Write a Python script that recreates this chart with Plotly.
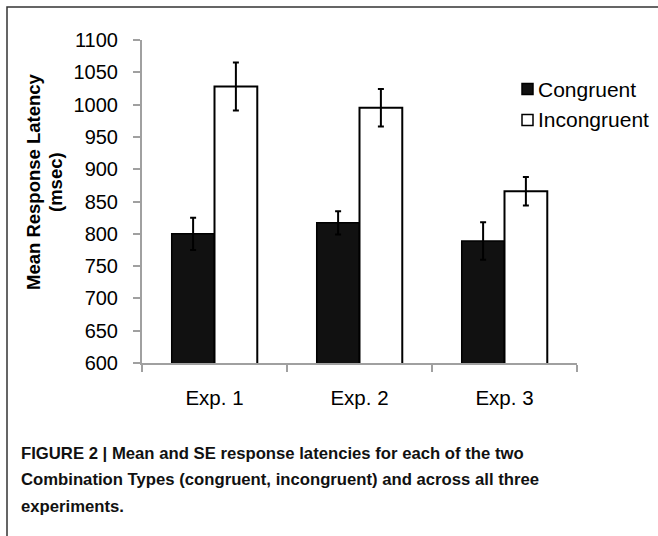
import plotly.graph_objects as go

categories = ["Exp. 1", "Exp. 2", "Exp. 3"]
congruent = [800, 817, 789]
congruent_se = [25, 18, 29]
incongruent = [1028, 995, 866]
incongruent_se = [37, 29, 22]
y_ticks = [600, 650, 700, 750, 800, 850, 900, 950, 1000, 1050, 1100]
series_names = ["Congruent", "Incongruent"]
caption_lines = [
    "FIGURE 2 | Mean and SE response latencies for each of the two",
    "Combination Types (congruent, incongruent) and across all three",
    "experiments.",
]

W, H = 658, 536
L, R, T, B = 142, 577, 40, 363

def px(x):
    return (x - L) / (R - L)

def py(y):
    return (B - y) / (B - T)

fig = go.Figure()
fig.add_trace(go.Bar(
    name=series_names[0], x=categories, y=congruent,
    marker=dict(color="#111111", line=dict(color="#000000", width=1.5)),
    error_y=dict(type="data", array=congruent_se, color="#000000", thickness=2, width=3),
))
fig.add_trace(go.Bar(
    name=series_names[1], x=categories, y=incongruent,
    marker=dict(color="#ffffff", line=dict(color="#000000", width=2)),
    error_y=dict(type="data", array=incongruent_se, color="#000000", thickness=2, width=3),
))

font_main = "Liberation Sans, Arial, sans-serif"

fig.update_layout(
    width=W, height=H,
    margin=dict(l=L, r=W - R, t=T, b=H - B),
    paper_bgcolor="white", plot_bgcolor="white",
    barmode="group", bargap=0.41, bargroupgap=0,
    font=dict(family=font_main, size=20, color="#000000"),
    showlegend=False,
)
fig.update_xaxes(
    showline=True, linecolor="#a0a0a0", linewidth=2,
    ticks="outside", tickson="boundaries", ticklen=7, tickcolor="#a0a0a0", tickwidth=2,
    showgrid=False, ticklabelstandoff=15,
    tickfont=dict(size=20.5),
)
fig.update_yaxes(
    range=[600, 1100], tickvals=y_ticks,
    showline=True, linecolor="#a0a0a0", linewidth=2,
    ticks="outside", ticklen=7, tickcolor="#a0a0a0", tickwidth=2,
    showgrid=False, zeroline=False, ticklabelstandoff=11,
    tickfont=dict(size=20),
)

# y-axis title (two lines)
fig.add_annotation(text="<b>Mean Response Latency</b>", xref="paper", yref="paper",
                   x=px(33), y=py(182), xanchor="center", yanchor="middle", textangle=-90,
                   showarrow=False, font=dict(size=18.5, family=font_main))
fig.add_annotation(text="<b>(msec)</b>", xref="paper", yref="paper",
                   x=px(55), y=py(182), xanchor="center", yanchor="middle", textangle=-90,
                   showarrow=False, font=dict(size=18.5, family=font_main))

# legend (custom)
legend_fills = ["#111111", "#ffffff"]
legend_y = [89, 120]
for name, fill, yc in zip(series_names, legend_fills, legend_y):
    fig.add_shape(type="rect", xref="paper", yref="paper",
                  x0=px(522), x1=px(533), y0=py(yc + 5.5), y1=py(yc - 5.5),
                  line=dict(color="#000000", width=1.5), fillcolor=fill)
    fig.add_annotation(text=name, xref="paper", yref="paper", x=px(536), y=py(yc),
                       xanchor="left", yanchor="middle", showarrow=False,
                       font=dict(size=21, family=font_main))

# caption
for i, line in enumerate(caption_lines):
    fig.add_annotation(
        text="<b>" + line + "</b>",
        xref="paper", yref="paper", x=px(19), y=py(453 + 26.5 * i),
        xanchor="left", yanchor="middle", align="left", showarrow=False,
        font=dict(size=16.7, family="Liberation Sans Narrow, Arial Narrow, sans-serif", color="#111111"),
    )

# outer frame
fig.add_shape(type="rect", xref="paper", yref="paper",
              x0=px(7), x1=px(670), y0=py(560), y1=py(7),
              line=dict(color="#333333", width=1.5), fillcolor="rgba(0,0,0,0)", layer="below")

fig.write_html("out.html", config={"displayModeBar": False, "staticPlot": True},
               post_script="document.body.style.margin='0';document.body.style.overflow='hidden';")
